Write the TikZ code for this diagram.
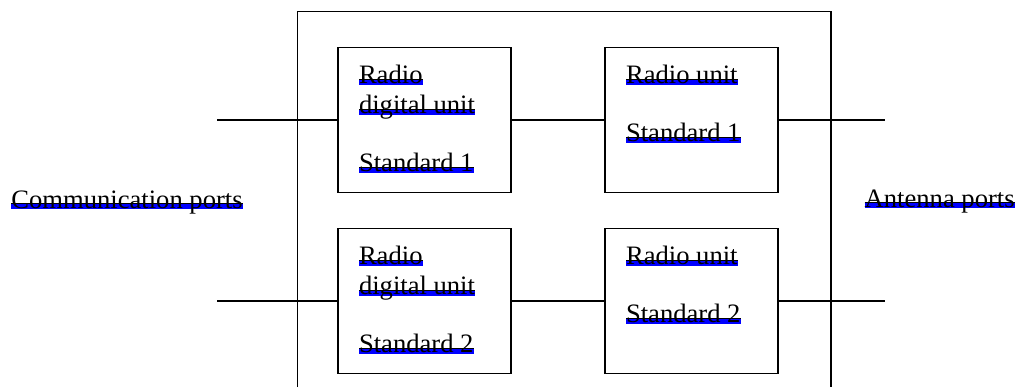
\documentclass[tikz,border=0pt]{standalone}
\usepackage{fontspec}
\setmainfont{Liberation Serif}
\usepackage {tikz}
\usetikzlibrary {positioning}
\newsavebox\trkbox
\newcommand\trk[1]{\sbox\trkbox{#1}%
  \rlap{\color{blue}\rule[-0.6pt]{\wd\trkbox}{2.6pt}}%
  \rlap{\rule[2pt]{\wd\trkbox}{0.35pt}}\usebox\trkbox}
\tikzset{
    unit/.style = {rectangle,draw,line width=0.7pt,minimum width=86.5pt,minimum height=72.5pt,inner sep=0pt},
    unittext/.style = {anchor=north west,align=left,inner sep=0pt,font=\fontsize{13.3}{15}\selectfont}}

\begin{document}
\begin{tikzpicture}[x=0.5pt ,y=-0.5pt ,node distance =90.5pt and 133.5pt ,on grid ,
    line width=0.7pt ,
    portlabel/.style ={anchor=base west ,inner sep=0pt ,font=\fontsize{13.3}{15}\selectfont}
    ]
    \useasboundingbox (0,0) rectangle (1017,387);
    \node[unit] (RDU1) at (424.5,120) {};
    \node[unit] (RU1) [right = of RDU1] {};
    \node[unit] (RDU2) [below = of RDU1] {};
    \node[unit] (RU2) [right = of RDU2] {};
    \node[unittext] (RDU1t) at ([xshift=10.5pt,yshift=-9pt]RDU1.north west) {\trk{Radio}\\ \trk{digital unit}\\[14pt] \trk{Standard 1}};
    \node[unittext] (RU1t) at ([xshift=10.5pt,yshift=-9pt]RU1.north west) {\trk{Radio unit}\\[14pt] \trk{Standard 1}};
    \node[unittext] (RDU2t) at ([xshift=10.5pt,yshift=-9pt]RDU2.north west) {\trk{Radio}\\ \trk{digital unit}\\[14pt] \trk{Standard 2}};
    \node[unittext] (RU2t) at ([xshift=10.5pt,yshift=-9pt]RU2.north west) {\trk{Radio unit}\\[14pt] \trk{Standard 2}};
    % ports
    \coordinate [left = 60pt of RDU1.west] (C1);
    \coordinate [left = 60pt of RDU2.west] (C2);
    \coordinate [right = 53pt of RU1.east] (A1);
    \coordinate [right = 53pt of RU2.east] (A2);
    \node[portlabel] (comm) at (10.7,208) {\trk{Communication ports}};
    \node[portlabel] (ant) at (864,207) {\trk{Antenna ports}};
    % enclosure, open at the bottom
    \draw (297.7,387) |- (831,11.7) -- (831,387);
    \draw (C1) -- (RDU1);
    \draw (RDU1) -- (RU1);
    \draw (RU1) -- (A1);
    \draw (C2) -- (RDU2);
    \draw (RDU2) -- (RU2);
    \draw (RU2) -- (A2);
\end{tikzpicture}
\end{document}
